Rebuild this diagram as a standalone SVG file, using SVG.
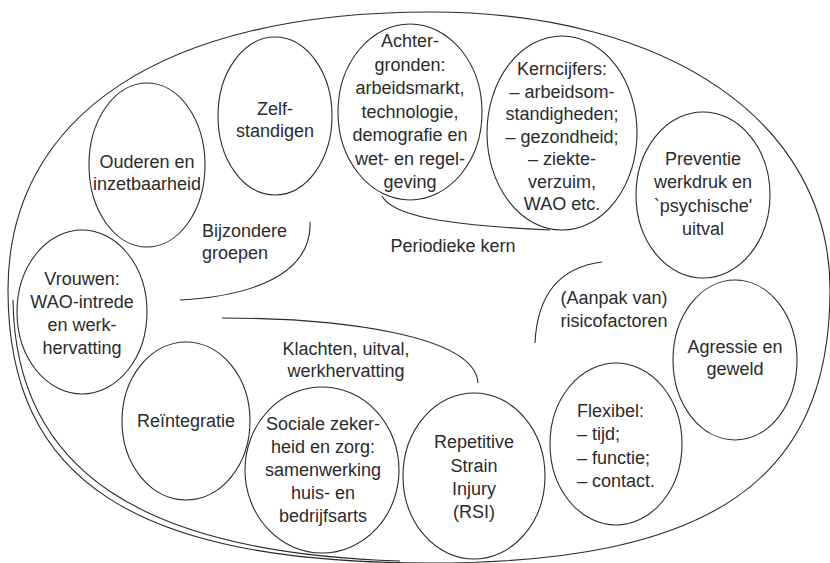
<svg xmlns="http://www.w3.org/2000/svg" width="830" height="563" viewBox="0 0 830 563">
  <style>
    .bg { fill: #ffffff; }
    .node { fill: none; stroke: #2b2b2b; stroke-width: 1.1; }
    .rim { fill: none; stroke: #2b2b2b; stroke-width: 1.1; }
    .arc { fill: none; stroke: #2b2b2b; stroke-width: 1.1; }
    text { font-family: "Liberation Sans", Arial, sans-serif; font-size: 18px; fill: #2b2b2b; }
    .c { text-anchor: middle; }
  </style>

  <rect class="bg" x="0" y="0" width="830" height="563"/>

  <!-- outer boundary: four quarter curves, fuller at the bottom -->
  <g id="boundary">
    <path class="rim" d="M 8 290 C 8 115, 164 12, 430 12 C 670 12, 830 123, 830 290 C 830 481, 710 563, 430 563 C 135 563, 8 481, 8 290 Z"/>
    <path class="rim" d="M 13 300 C 15 470, 140 553, 400 561"/>
  </g>

  <!-- bracket arcs grouping the themes -->
  <g id="connectors">
    <path class="arc" d="M 310 222 C 312 265, 270 295, 180 300"/>
    <path class="arc" d="M 382 196 C 392 215, 440 225, 550 230"/>
    <path class="arc" d="M 535 343 C 537 300, 555 268, 602 262"/>
    <path class="arc" d="M 222 318 C 340 318, 475 335, 478 383"/>
  </g>

  <!-- group labels -->
  <g id="labels">
    <text x="202" y="237">Bijzondere</text>
    <text x="202" y="259">groepen</text>
    <text class="c" x="453" y="252">Periodieke kern</text>
    <text class="c" x="614" y="304">(Aanpak van)</text>
    <text class="c" x="614" y="327">risicofactoren</text>
    <text class="c" x="346" y="355">Klachten, uitval,</text>
    <text class="c" x="346" y="377">werkhervatting</text>
  </g>

  <g id="ouderen">
    <ellipse class="node" cx="147" cy="165" rx="58" ry="82"/>
    <text class="c" x="147" y="168">Ouderen en</text>
    <text class="c" x="147" y="190">inzetbaarheid</text>
  </g>

  <g id="zelfstandigen">
    <ellipse class="node" cx="275" cy="116" rx="57" ry="79"/>
    <text class="c" x="275" y="115">Zelf-</text>
    <text class="c" x="275" y="137">standigen</text>
  </g>

  <g id="achtergronden">
    <ellipse class="node" cx="410" cy="112" rx="72" ry="88"/>
    <text class="c" x="410" y="47">Achter-</text>
    <text class="c" x="410" y="70.5">gronden:</text>
    <text class="c" x="410" y="94">arbeidsmarkt,</text>
    <text class="c" x="410" y="117.5">technologie,</text>
    <text class="c" x="410" y="141">demografie en</text>
    <text class="c" x="410" y="164.5">wet- en regel-</text>
    <text class="c" x="410" y="188">geving</text>
  </g>

  <g id="kerncijfers">
    <ellipse class="node" cx="562" cy="133" rx="75" ry="97"/>
    <text class="c" x="562" y="75">Kerncijfers:</text>
    <text class="c" x="562" y="97.5">– arbeidsom-</text>
    <text class="c" x="562" y="120">standigheden;</text>
    <text class="c" x="562" y="142.5">– gezondheid;</text>
    <text class="c" x="562" y="165">– ziekte-</text>
    <text class="c" x="562" y="187.5">verzuim,</text>
    <text class="c" x="562" y="210">WAO etc.</text>
  </g>

  <g id="preventie">
    <ellipse class="node" cx="703" cy="195" rx="67" ry="83"/>
    <text class="c" x="703" y="165">Preventie</text>
    <text class="c" x="703" y="188.3">werkdruk en</text>
    <text class="c" x="703" y="211.6">`psychische'</text>
    <text class="c" x="703" y="235">uitval</text>
  </g>

  <g id="agressie">
    <ellipse class="node" cx="735" cy="360" rx="62" ry="80"/>
    <text class="c" x="735" y="353">Agressie en</text>
    <text class="c" x="735" y="375">geweld</text>
  </g>

  <g id="flexibel">
    <ellipse class="node" cx="616" cy="444" rx="66" ry="81"/>
    <text x="577" y="417">Flexibel:</text>
    <text x="577" y="440">– tijd;</text>
    <text x="577" y="463.5">– functie;</text>
    <text x="577" y="487">– contact.</text>
  </g>

  <g id="rsi">
    <ellipse class="node" cx="474" cy="476" rx="71" ry="83"/>
    <text class="c" x="474" y="448">Repetitive</text>
    <text class="c" x="474" y="471.5">Strain</text>
    <text class="c" x="474" y="495">Injury</text>
    <text class="c" x="474" y="518">(RSI)</text>
  </g>

  <g id="sociale-zekerheid">
    <ellipse class="node" cx="322" cy="470" rx="77" ry="83"/>
    <text class="c" x="323" y="430">Sociale zeker-</text>
    <text class="c" x="323" y="453">heid en zorg:</text>
    <text class="c" x="323" y="476">samenwerking</text>
    <text class="c" x="323" y="499">huis- en</text>
    <text class="c" x="323" y="522">bedrijfsarts</text>
  </g>

  <g id="reintegratie">
    <ellipse class="node" cx="186" cy="421" rx="64" ry="79"/>
    <text class="c" x="186" y="427">Reïntegratie</text>
  </g>

  <g id="vrouwen">
    <ellipse class="node" cx="82" cy="312" rx="65" ry="82"/>
    <text class="c" x="82" y="285">Vrouwen:</text>
    <text class="c" x="82" y="308">WAO-intrede</text>
    <text class="c" x="82" y="331">en werk-</text>
    <text class="c" x="82" y="354">hervatting</text>
  </g>
</svg>
